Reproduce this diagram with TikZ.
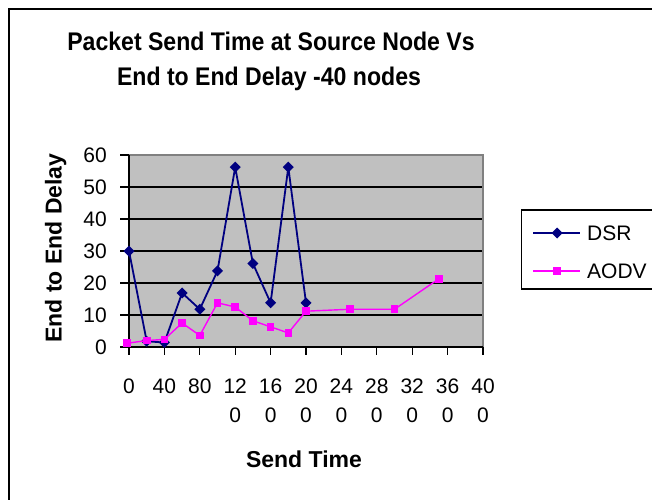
\documentclass[tikz,border=0pt]{standalone}
\usepackage{fontspec}
\setmainfont{Liberation Sans}
\definecolor{dsr}{RGB}{0,0,128}
\definecolor{aodv}{RGB}{255,0,255}
\definecolor{plotbg}{RGB}{192,192,192}
\definecolor{plotedge}{RGB}{128,128,128}
\tikzset{
  ticklbl/.style={font=\fontsize{21}{25}\selectfont, inner sep=0pt},
  boldlbl/.style={font=\bfseries\fontsize{23}{27}\selectfont, inner sep=0pt},
  titlelbl/.style={font=\bfseries\fontsize{25.5}{30}\selectfont, inner sep=0pt, anchor=base},
  grid line/.style={black, line width=1.3pt},
  axis line/.style={black, line width=1.3pt},
  dsr line/.style={dsr, line width=1.8pt, line join=round},
  aodv line/.style={aodv, line width=1.4pt, line join=round},
}
\newcommand{\dsrmark}[1]{\fill[dsr] (#1) ++(-5.5pt,0) -- ++(5.5pt,5.5pt) -- ++(5.5pt,-5.5pt) -- ++(-5.5pt,-5.5pt) -- cycle;}
\newcommand{\aodvmark}[1]{\fill[aodv] (#1) ++(-3.8pt,-3.8pt) rectangle ++(7.6pt,7.6pt);}
\begin{document}
\begin{tikzpicture}[x=1pt,y=-1pt]
\useasboundingbox (0,0) rectangle (652,499);
\fill[white] (0,0) rectangle (652,499);
\clip (0,0) rectangle (652,499);
% outer chart border
\draw[black, line width=2.2pt] (9,9) rectangle (700,560);
% title
\node[titlelbl] (title1) at (271,50) {\scalebox{0.905}[1]{Packet Send Time at Source Node Vs}};
\node[titlelbl] (title2) at (269,85) {\scalebox{0.905}[1]{End to End Delay -40 nodes}};
% plot area
\fill[plotbg] (129,155) rectangle (483,347);
\foreach \v in {1,...,5} \draw[grid line] (129,{347-32*\v}) -- (483,{347-32*\v});
\draw[plotedge, line width=1.3pt] (129,155) -- (483,155) -- (483,347);
% axes
\draw[axis line] (129,155) -- (129,347);
\draw[axis line] (129,347) -- (483,347);
\foreach \v in {0,...,6} \draw[axis line] (120,{347-32*\v}) -- (129,{347-32*\v});
\foreach \i in {0,...,10} \draw[axis line] ({129+35.4*\i},347) -- ({129+35.4*\i},355);
% y tick labels
\foreach \v [count=\k from 0] in {0,10,20,30,40,50,60}
  \node[ticklbl, anchor=east] (yl\k) at (107,{347-32*\k}) {\v};
% x tick labels
\foreach \t [count=\i from 0] in {0,40,80,12,16,20,24,28,32,36,40}
  \node[ticklbl, anchor=base] (xl\i) at ({129+35.4*\i},393) {\t};
\foreach \i in {3,...,10}
  \node[ticklbl, anchor=base] (xz\i) at ({129+35.4*\i},422) {0};
% axis titles
\node[boldlbl, anchor=base] (xtitle) at (304,467) {Send Time};
\node[boldlbl, anchor=base, rotate=90] (ytitle) at (61.5,248) {End to End Delay};
% data points
\begin{scope}[shift={(129,347)}, x=0.885pt, y=3.2pt]
\foreach \px/\py [count=\n] in {0/30, 20/1.8, 40/1.4, 60/16.9, 80/11.8, 100/23.8, 120/56.2, 140/26.1, 160/13.8, 180/56.2, 200/13.8}
  \coordinate (d\n) at (\px,\py);
\foreach \px/\py [count=\n] in {-2/1.2, 20/2.0, 40/2.4, 60/7.5, 80/3.6, 100/13.8, 120/12.5, 140/8.2, 160/6.3, 180/4.4, 200/11.2, 250/11.8, 300/11.8, 350/21.3}
  \coordinate (a\n) at (\px,\py);
\end{scope}
\draw[dsr line] (d1) \foreach \n in {2,...,11} { -- (d\n) };
\foreach \n in {1,...,11} { \dsrmark{d\n} }
\draw[aodv line] (a1) \foreach \n in {2,...,14} { -- (a\n) };
\foreach \n in {1,...,14} { \aodvmark{a\n} }
% legend
\draw[black, line width=1.5pt] (521.7,210) rectangle (700,289);
\coordinate (l1a) at (533,233);
\coordinate (l1b) at (580,233);
\coordinate (l1m) at (557,233);
\coordinate (l2a) at (533,271);
\coordinate (l2b) at (580,271);
\coordinate (l2m) at (557,271);
\draw[dsr line] (l1a) -- (l1b);
\dsrmark{l1m}
\draw[aodv line] (l2a) -- (l2b);
\aodvmark{l2m}
\node[ticklbl, anchor=west] (leg1) at (587,233) {DSR};
\node[ticklbl, anchor=west] (leg2) at (587,271) {AODV};
\end{tikzpicture}
\end{document}
